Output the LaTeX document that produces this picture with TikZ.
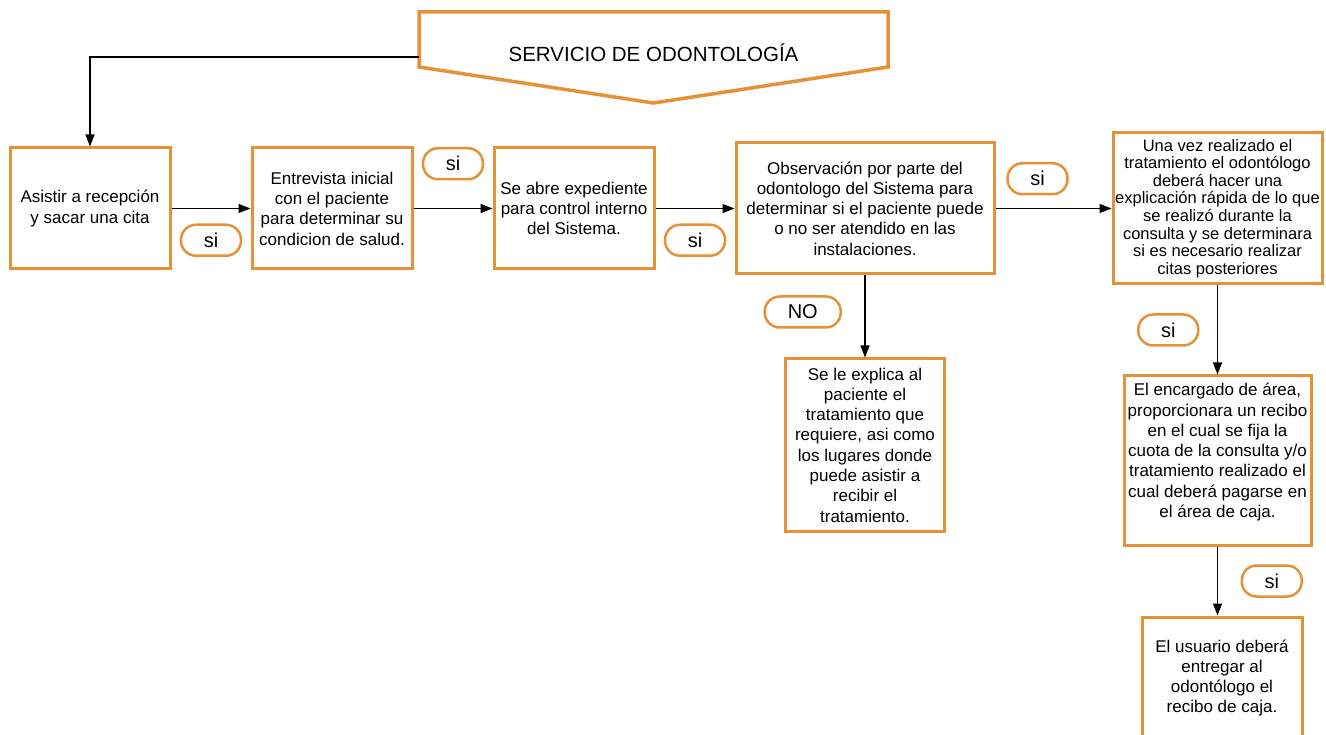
\documentclass[tikz,border=0pt]{standalone}
\usepackage{fontspec}
\setmainfont{Liberation Sans}
\usepackage{xcolor}
\usepackage{tikz}
\usetikzlibrary{arrows.meta,positioning}
\definecolor{odoOrange}{RGB}{230,145,56}
\tikzset{
  box/.style={rectangle, draw=odoOrange, fill=white, line width=3pt,
              inner sep=1pt, text=black, align=center,
              font=\fontsize{17}{20.3}\selectfont},
  tag/.style={rectangle, rounded corners=15pt, draw=odoOrange, fill=white,
              line width=2.5pt, minimum width=60pt, minimum height=31pt,
              inner sep=0pt, font=\fontsize{20}{24}\selectfont},
  arr/.style={-{Triangle[length=12pt,width=9pt]}, line width=1.2pt, black},
}

\begin{document}
\begin{tikzpicture}[x=1pt, y=-1pt, node distance=79pt]
    \useasboundingbox (0,0) rectangle (1326,735);

    % header
    \draw[line width=3.5pt, draw=odoOrange]
          (419,12) -- (888,12) -- (888,67) -- (653.5,103) -- (419,67) -- cycle;
    \node[font=\fontsize{20.5}{24}\selectfont] (title) at (653.5,53)
          {SERVICIO DE ODONTOLOGÍA};
    \coordinate (start) at (419,57);

    % main row
    \node[box, minimum width=160pt, minimum height=121pt] (rec) at (90,208.5)
          {Asistir a recepción\\y sacar una cita};
    \node[box, minimum width=160pt, minimum height=121pt, right=of rec] (ent)
          {Entrevista inicial\\con el paciente\\para determinar su\\condicion de salud.};
    \node[box, minimum width=160pt, minimum height=121pt, right=of ent] (exp)
          {Se abre expediente\\para control interno\\del Sistema.};
    \node[box, minimum width=258pt, minimum height=131pt, right=of exp] (obs)
          {Observación por parte del\\odontologo del Sistema para\\determinar si el paciente puede\\o no ser atendido en las\\instalaciones.};
    \node[box, font=\fontsize{16.5}{17.6}\selectfont, minimum width=209pt,
          minimum height=151pt, right=116pt of obs] (expl)
          {Una vez realizado el\\tratamiento el odontólogo\\deberá hacer una\\explicación rápida de lo que\\se realizó durante la\\consulta y se determinara\\si es necesario realizar\\citas posteriores};

    % columns below
    \node[box, minimum width=159pt, minimum height=172pt, below=82pt of obs] (noatt)
          {Se le explica al\\paciente el\\tratamiento que\\requiere, asi como\\los lugares donde\\puede asistir a\\recibir el\\tratamiento.};
    \node[box, minimum width=187pt, minimum height=169pt, below=89pt of expl] (recibo)
          {El encargado de área,\\proporcionara un recibo\\en el cual se fija la\\cuota de la consulta y/o\\tratamiento realizado el\\cual deberá pagarse en\\el área de caja.\\~};
    \node[box, minimum width=160pt, minimum height=122pt, below=69pt of recibo,
          xshift=4.5pt] (caja)
          {El usuario deberá\\entregar al\\odontólogo el\\recibo de caja.};

    % connectors
    \draw[arr] (start) -| (rec.north);
    \draw[arr] (rec) -- node[tag, below=15pt] (si1) {si} (ent);
    \draw[arr] (ent) -- node[tag, above=28pt] (si2) {si} (exp);
    \draw[arr] (exp) -- node[tag, below=15pt] (si3) {si} (obs);
    \draw[arr] (obs) -- node[tag, above=13pt, xshift=-16pt] (si4) {si} (expl);
    \draw[arr] (obs.south) -- node[tag, minimum width=76pt, left=23pt, yshift=4.5pt] (no) {NO}
          (obs.south |- noatt.north);
    \draw[arr] (expl.south) -- node[tag, left=18pt] (si5) {si} (expl.south |- recibo.north);
    \draw[arr] (recibo.south) -- node[tag, right=23pt] (si6) {si} (recibo.south |- caja.north);
  \end{tikzpicture}
\end{document}
